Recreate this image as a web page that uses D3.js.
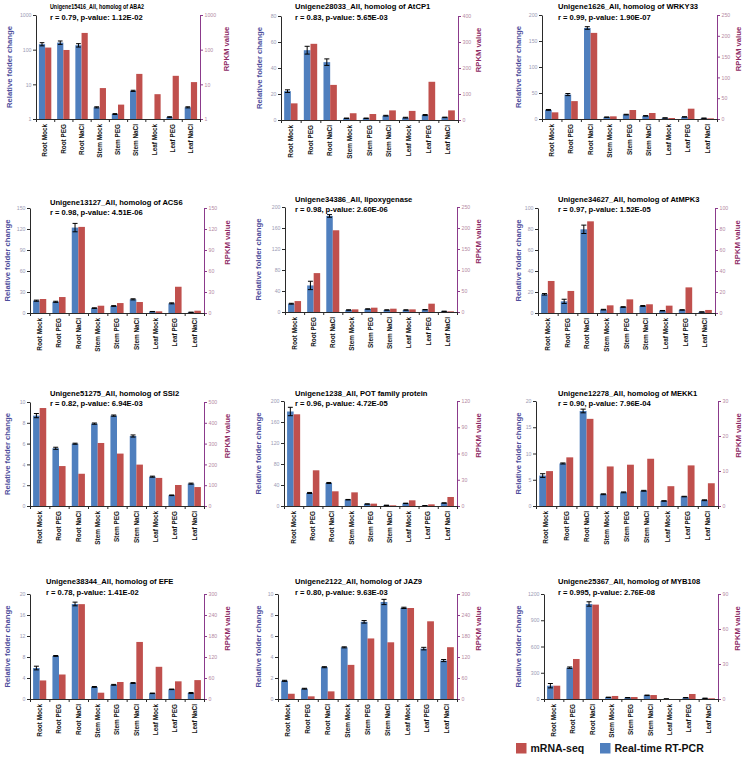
<!DOCTYPE html>
<html><head><meta charset="utf-8">
<script src="https://cdn.jsdelivr.net/npm/d3@7"></script>
<style>
body{margin:0;background:#fff}
text{font-family:"Liberation Sans",Arial,sans-serif}
</style>
</head><body>
<svg id="chart" width="745" height="771"></svg>
<script>
// ---------- DATA ----------
const categories = ["Root Mock","Root PEG","Root NaCl","Stem Mock","Stem PEG","Stem NaCl","Leaf Mock","Leaf PEG","Leaf NaCl"];
const geneTitles = [
  "Unigene15416_All, homolog of ABA2",
  "Unigene28033_All, homolog of AtCP1",
  "Unigene1626_All, homolog of WRKY33",
  "Unigene13127_All, homolog of ACS6",
  "Unigene34386_All, lipoxygenase",
  "Unigene34627_All, homolog of AtMPK3",
  "Unigene51275_All, homolog of SSI2",
  "Unigene1238_All, POT family protein",
  "Unigene12278_All, homolog of MEKK1",
  "Unigene38344_All, homolog of EFE",
  "Unigene2122_All, homolog of JAZ9",
  "Unigene25367_All, homolog of MYB108"
];
const statLines = [
  "r = 0.79, p-value: 1.12E-02",
  "r = 0.83, p-value: 5.65E-03",
  "r = 0.99, p-value: 1.90E-07",
  "r = 0.98, p-value: 4.51E-06",
  "r = 0.98, p-value: 2.60E-06",
  "r = 0.97, p-value: 1.52E-05",
  "r = 0.82, p-value: 6.94E-03",
  "r = 0.96, p-value: 4.72E-05",
  "r = 0.90, p-value: 7.96E-04",
  "r = 0.78, p-value: 1.41E-02",
  "r = 0.80, p-value: 9.63E-03",
  "r = 0.995, p-value: 2.76E-08"
];
// Real-time RT-PCR (relative folder change), left axis
const rtpcr = [
  [144,160,134,2.17,1.39,6.5,1.0,1.14,2.17],
  [22.2,53.7,44.5,1.3,1.3,3.3,1.8,3.8,2.0],
  [17.5,47,175,3.5,8.5,6,2,4,1.5],
  [17.6,16,122,7,10,19.5,2,13.8,1],
  [15.8,50.6,183,3.8,5.7,3.8,3.8,4.4,1.3],
  [17.8,11.1,79.7,3.2,5.7,6.7,2.2,2.9,1],
  [8.69,5.55,5.99,7.92,8.69,6.73,2.82,1.03,2.15],
  [180,24.8,43.8,12,3.8,1.3,5,0.6,5.7],
  [5.8,8.1,18.1,2.24,2.6,2.9,0.96,1.8,1.1],
  [5.9,8.2,18.1,2.3,2.7,3.05,1.08,1.84,1.14],
  [1.73,0.98,3.03,4.92,7.35,9.24,8.68,4.8,3.66],
  [152,358,1086,19,15,42,1,15,8]
];
const rtpcrErr = [
  [15,18,15,0.08,0.04,0.25,0,0.02,0.08],
  [1,3,2.5,0.2,0.2,0.3,0.3,0.4,0.2],
  [0.8,2,2.5,0.3,0.6,0.5,0.2,0.3,0.2],
  [0.8,0.8,6,0.4,0.5,0.8,0.2,0.7,0.1],
  [0.8,8,2.5,0.3,0.3,0.3,0.3,0.3,0.1],
  [0.7,2,4,0.3,0.3,0.4,0.2,0.2,0.1],
  [0.2,0.1,0.05,0.06,0.06,0.1,0.05,0.03,0.05],
  [8,1,1,0.5,0.3,0.2,0.4,0.1,0.4],
  [0.35,0.1,0.35,0.08,0.08,0.08,0.05,0.05,0.08],
  [0.35,0.08,0.35,0.08,0.08,0.08,0.05,0.05,0.1],
  [0.05,0.04,0.05,0.05,0.12,0.25,0.06,0.12,0.1],
  [25,8,25,2,2,3,0,2,1]
];
// mRNA-seq (RPKM value), right axis
const rpkm = [
  [115,98,304,7.8,2.6,20,5.2,17.6,11.6],
  [64,293,135,26,23,37,35,147,37],
  [16,43,207,6.4,21.6,14.4,2.4,24.8,1.6],
  [20,22.8,123,10.4,14.2,15.7,2.4,37.5,3.3],
  [26,92.6,194.6,6.3,10.3,7.9,6.3,19.8,1.6],
  [30.5,21,87.3,7.3,13,8.3,7,24.4,2.9],
  [471,192,155,303,252,199,135,101,91],
  [104.8,40.8,16.8,15.6,2.7,0.8,6.5,1.9,10.3],
  [9.97,13.9,24.9,11.3,11.8,13.5,5.66,11.6,6.5],
  [53,70,271,18,48.6,163,92,50.5,54],
  [15,7.6,21.8,97.5,173,162,260,222,148],
  [11.4,34.3,80.9,2.6,1.7,3.4,0,4.3,0.6]
];
const leftTicks = [
  [1,10,100,1000],[0,20,40,60,80],[0,50,100,150,200],
  [0,30,60,90,120,150],[0,40,80,120,160,200],[0,20,40,60,80,100],
  [0,2,4,6,8,10],[0,40,80,120,160,200],[0,5,10,15,20],
  [0,4,8,12,16,20],[0,2,4,6,8,10],[0,300,600,900,1200]
];
const rightTicks = [
  [1,10,100,1000],[0,100,200,300,400],[0,50,100,150,200,250],
  [0,30,60,90,120,150],[0,50,100,150,200,250],[0,20,40,60,80,100],
  [0,100,200,300,400,500],[0,30,60,90,120],[0,10,20,30],
  [0,60,120,180,240,300],[0,60,120,180,240,300],[0,30,60,90]
];
const logPanels = [0];
const legendLabels = ["mRNA-seq","Real-time RT-PCR"];

// ---------- LAYOUT ----------
const boxes = [
  {l:36,r:200,t:15,b:119, tx:50, ty1:6, ty2:17, lx:9, rx:226, tw:94},
  {l:281,r:458,t:16,b:120, tx:295, ty1:6, ty2:17, lx:259, rx:478},
  {l:542,r:717,t:15,b:119, tx:558, ty1:6, ty2:17, lx:518, rx:738},
  {l:30,r:204,t:208,b:313, tx:50, ty1:201.7, ty2:211.7, lx:7, rx:227},
  {l:285,r:457,t:207,b:312, tx:295, ty1:198.7, ty2:208.7, lx:258, rx:478},
  {l:538,r:715,t:208,b:313, tx:558, ty1:199, ty2:209.3, lx:518, rx:737},
  {l:30,r:204,t:402,b:506, tx:50, ty1:392.7, ty2:403.3, lx:7, rx:227},
  {l:284,r:457,t:401,b:506, tx:295, ty1:392.7, ty2:402.7, lx:258, rx:478},
  {l:536,r:718,t:401,b:506, tx:558, ty1:392.7, ty2:402.7, lx:518, rx:738},
  {l:30,r:204,t:594,b:699, tx:46, ty1:581, ty2:592.3, lx:7, rx:227},
  {l:278,r:457,t:594,b:699, tx:295, ty1:581, ty2:592.3, lx:258, rx:478},
  {l:544,r:718,t:594,b:699, tx:558, ty1:581, ty2:592.3, lx:518, rx:737}
];
const BLUE = "#4f7fbe", RED = "#c0504d";
const LEFT_AX = "#2a2a2a", RIGHT_AX = "#8b3a8b";
const LEFT_TICK_TXT = "#9b9bb5", RIGHT_TICK_TXT = "#b58aa3";
const LEFT_LABEL = "#4e4e9c", RIGHT_LABEL = "#8e2b66";

const svg = d3.select("#chart");

boxes.forEach((bx, i) => {
  const g = svg.append("g");
  const isLog = logPanels.includes(i);
  const lt = leftTicks[i], rt = rightTicks[i];
  const yL = isLog ? d3.scaleLog().domain([lt[0], lt[lt.length-1]]).range([bx.b, bx.t])
                   : d3.scaleLinear().domain([lt[0], lt[lt.length-1]]).range([bx.b, bx.t]);
  const yR = isLog ? d3.scaleLog().domain([rt[0], rt[rt.length-1]]).range([bx.b, bx.t])
                   : d3.scaleLinear().domain([rt[0], rt[rt.length-1]]).range([bx.b, bx.t]);
  const x = d3.scaleBand().domain(categories).range([bx.l, bx.r]);
  const bw = x.bandwidth() * 0.34;
  const baseL = lt[0], baseR = rt[0];
  const clampL = v => Math.max(v, baseL), clampR = v => Math.max(v, baseR);

  // blue bars
  g.selectAll(".blue").data(categories).join("rect")
    .attr("x", c => x(c) + x.bandwidth()/2 - bw)
    .attr("width", bw)
    .attr("y", (c,j) => yL(clampL(rtpcr[i][j])))
    .attr("height", (c,j) => yL(baseL) - yL(clampL(rtpcr[i][j])))
    .attr("fill", BLUE);
  // red bars
  g.selectAll(".red").data(categories).join("rect")
    .attr("x", c => x(c) + x.bandwidth()/2)
    .attr("width", bw)
    .attr("y", (c,j) => yR(clampR(rpkm[i][j])))
    .attr("height", (c,j) => yR(baseR) - yR(clampR(rpkm[i][j])))
    .attr("fill", RED);
  // error bars
  const eg = g.append("g").attr("stroke", "#000").attr("stroke-width", 1);
  categories.forEach((c, j) => {
    const v = rtpcr[i][j], e = rtpcrErr[i][j];
    if (v <= baseL) return;
    const cx = x(c) + x.bandwidth()/2 - bw/2;
    const y1 = yL(clampL(v - e)), y2 = yL(v + e);
    const hw = bw * 0.38;
    eg.append("line").attr("x1", cx).attr("x2", cx).attr("y1", y1).attr("y2", y2);
    eg.append("line").attr("x1", cx-hw).attr("x2", cx+hw).attr("y1", y2).attr("y2", y2);
    eg.append("line").attr("x1", cx-hw).attr("x2", cx+hw).attr("y1", y1).attr("y2", y1);
  });

  // left axis
  const la = g.append("g").attr("transform", `translate(${bx.l},0)`)
    .call(d3.axisLeft(yL).tickValues(lt).tickFormat(d => d).tickSize(3).tickSizeOuter(0));
  la.select(".domain").attr("stroke", LEFT_AX);
  la.selectAll(".tick line").attr("stroke", LEFT_AX);
  la.selectAll(".tick text").attr("fill", LEFT_TICK_TXT).attr("font-size", 5.2).attr("x", -4.5);

  // right axis
  const ra = g.append("g").attr("transform", `translate(${bx.r},0)`)
    .call(d3.axisRight(yR).tickValues(rt).tickFormat(d => d).tickSize(3).tickSizeOuter(0));
  ra.select(".domain").attr("stroke", RIGHT_AX);
  ra.selectAll(".tick line").attr("stroke", RIGHT_AX);
  ra.selectAll(".tick text").attr("fill", RIGHT_TICK_TXT).attr("font-size", 5.2).attr("x", 4.5);

  // bottom axis with ticks between categories
  const xb = d3.scaleLinear().domain([0, categories.length]).range([bx.l, bx.r]);
  const ba = g.append("g").attr("transform", `translate(0,${bx.b})`)
    .call(d3.axisBottom(xb).tickValues(d3.range(categories.length + 1)).tickFormat("").tickSize(3).tickSizeOuter(0));
  ba.select(".domain").attr("stroke", LEFT_AX);
  ba.selectAll(".tick line").attr("stroke", LEFT_AX);

  // category labels
  g.selectAll(".cat").data(categories).join("text")
    .attr("transform", c => `translate(${x(c) + x.bandwidth()/2},${bx.b + 5}) rotate(-90)`)
    .attr("text-anchor", "end").attr("dy", "0.35em")
    .attr("font-size", 6.4).attr("font-weight", "bold").attr("fill", "#111")
    .text(c => c);

  // titles
  const t1 = g.append("text").attr("x", bx.tx).attr("y", bx.ty1 + 2.8)
    .attr("font-size", 7.6).attr("font-weight", "bold").attr("fill", "#000").text(geneTitles[i]);
  if (bx.tw) t1.attr("textLength", bx.tw).attr("lengthAdjust", "spacingAndGlyphs");
  g.append("text").attr("x", bx.tx).attr("y", bx.ty2 + 2.8)
    .attr("font-size", 7.6).attr("font-weight", "bold").attr("fill", "#000").text(statLines[i]);

  // axis labels
  const my = (bx.t + bx.b) / 2;
  g.append("text").attr("transform", `translate(${bx.lx},${my}) rotate(-90)`)
    .attr("text-anchor", "middle").attr("dy", "0.35em")
    .attr("font-size", 7.7).attr("font-weight", "bold").attr("fill", LEFT_LABEL)
    .text("Relative folder change");
  g.append("text").attr("transform", `translate(${bx.rx},${my - 18}) rotate(-90)`)
    .attr("text-anchor", "middle").attr("dy", "0.35em")
    .attr("font-size", 7.7).attr("font-weight", "bold").attr("fill", RIGHT_LABEL)
    .text("RPKM value");
});

// legend
const lg = svg.append("g");
const legendItems = [{x:516, c:RED}, {x:600, c:BLUE}];
legendItems.forEach((it, k) => {
  lg.append("rect").attr("x", it.x).attr("y", 743).attr("width", 10.5).attr("height", 10.5).attr("fill", it.c);
  lg.append("text").attr("x", it.x + 14.5).attr("y", 752).attr("font-size", 10.5).attr("font-weight", "bold")
    .attr("fill", "#111").text(legendLabels[k]);
});
</script>
</body></html>
